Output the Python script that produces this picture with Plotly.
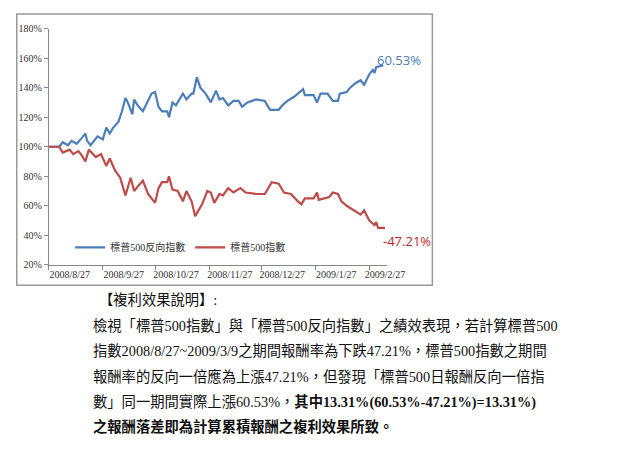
import plotly.graph_objects as go

blue_dates = ["2008-08-27","2008-09-02","2008-09-04","2008-09-07","2008-09-09","2008-09-12","2008-09-15","2008-09-17","2008-09-18","2008-09-20","2008-09-24","2008-09-27","2008-09-29","2008-10-01","2008-10-03","2008-10-06","2008-10-08","2008-10-10","2008-10-11","2008-10-14","2008-10-15","2008-10-17","2008-10-20","2008-10-23","2008-10-25","2008-10-27","2008-10-29","2008-10-31","2008-11-03","2008-11-04","2008-11-06","2008-11-08","2008-11-12","2008-11-14","2008-11-17","2008-11-18","2008-11-20","2008-11-22","2008-11-25","2008-11-28","2008-12-01","2008-12-03","2008-12-05","2008-12-08","2008-12-11","2008-12-14","2008-12-16","2008-12-19","2008-12-24","2008-12-29","2009-01-01","2009-01-06","2009-01-08","2009-01-11","2009-01-15","2009-01-20","2009-01-21","2009-01-26","2009-01-28","2009-01-30","2009-02-03","2009-02-06","2009-02-09","2009-02-10","2009-02-14","2009-02-16","2009-02-19","2009-02-22","2009-02-24","2009-02-27","2009-03-01","2009-03-02","2009-03-03","2009-03-07"]
blue_vals = [100,100,103,101,104,102,106,109,104,101,107,105,113,109,113,117,124,133,131,122,132,128,124,131,136,137,127,124,124,120,130,128,136,132,136,136,147,140,136,130,138,132,133,128,131,131,127,130,132,131,125,125,128,131,134,139,135,135,130,136,136,131,131,136,137,140,143,145,142,149,152,150,154,155]

red_dates = ["2008-08-27","2008-09-02","2008-09-04","2008-09-08","2008-09-10","2008-09-13","2008-09-15","2008-09-17","2008-09-19","2008-09-23","2008-09-26","2008-09-29","2008-10-01","2008-10-04","2008-10-07","2008-10-10","2008-10-13","2008-10-15","2008-10-17","2008-10-20","2008-10-23","2008-10-27","2008-10-29","2008-10-31","2008-11-03","2008-11-04","2008-11-06","2008-11-09","2008-11-12","2008-11-14","2008-11-17","2008-11-19","2008-11-23","2008-11-26","2008-11-28","2008-11-30","2008-12-03","2008-12-05","2008-12-08","2008-12-11","2008-12-15","2008-12-18","2008-12-24","2008-12-29","2009-01-02","2009-01-06","2009-01-09","2009-01-13","2009-01-17","2009-01-19","2009-01-21","2009-01-26","2009-01-28","2009-01-29","2009-02-04","2009-02-06","2009-02-09","2009-02-11","2009-02-14","2009-02-19","2009-02-22","2009-02-24","2009-02-27","2009-03-02","2009-03-03","2009-03-04","2009-03-08"]
red_vals = [100,100,96,98,95,97,94,90,98,93,95,87,92,84,79,67,79,70,73,77,68,62,72,76,76,80,71,70,63,70,63,53,61,70,69,62,68,67,72,69,72,69,68,68,76,75,69,68,63,61,65,65,69,64,66,69,68,63,60,56,54,57,50,47,49,45,45]

tick_pos = ["2008-09-08","2008-10-09","2008-11-08","2008-12-09","2009-01-08","2009-02-08","2009-03-08"]
tick_text = ["2008/8/27","2008/9/27","2008/10/27","2008/11/27","2008/12/27","2009/1/27","2009/2/27"]
y_ticks = [20,40,60,80,100,120,140,160,180]

W, H = 624, 434
def px(x):
    return (x - 8) / W
def py(y):
    return 1 - (y - 8) / H

BLUE = "#4a7ebb"
RED = "#be4b48"
fig = go.Figure()
fig.add_trace(go.Scatter(x=blue_dates, y=blue_vals, mode="lines", name="標普500反向指數", line=dict(color=BLUE, width=2.2)))
fig.add_trace(go.Scatter(x=red_dates, y=red_vals, mode="lines", name="標普500指數", line=dict(color=RED, width=2.2)))

serif = "Liberation Serif, Noto Sans CJK TC"
fig.update_layout(
    width=W, height=H, margin=dict(l=0, r=0, t=0, b=0),
    paper_bgcolor="white", plot_bgcolor="white",
    xaxis=dict(domain=[px(50), px(398)], type="date", range=["2008-08-27", "2009-03-09"],
               tickvals=tick_pos, ticktext=tick_text, ticks="", showgrid=False,
               showline=True, linecolor="#888", linewidth=1,
               tickfont=dict(family=serif, size=10, color="#333"),
               minor=dict(ticks="outside", tick0="2008-08-27", dtick="M1", ticklen=4, tickcolor="#888")),
    yaxis=dict(domain=[py(266), py(23)], range=[20, 180], tickvals=y_ticks,
               ticktext=[f"{v}%" for v in y_ticks], showgrid=False, zeroline=False,
               showline=True, linecolor="#888", ticks="outside", ticklen=4, tickcolor="#888",
               tickfont=dict(family=serif, size=10, color="#333")),
    legend=dict(orientation="h", x=px(72), y=py(248), xanchor="left", yanchor="middle",
                font=dict(family=serif, size=10, color="#333"), bgcolor="rgba(0,0,0,0)"),
    showlegend=True,
)
fig.add_shape(type="rect", xref="paper", yref="paper", x0=px(17), x1=px(445), y0=py(287), y1=py(8),
              line=dict(color="#999", width=1.5))
fig.add_annotation(xref="paper", yref="paper", x=px(411), y=py(44), text="60.53%", showarrow=False,
                   font=dict(family="Open Sans", size=13, color=BLUE))
fig.add_annotation(xref="paper", yref="paper", x=px(419), y=py(241), text="-47.21%", showarrow=False,
                   font=dict(family="Open Sans", size=13, color="#c0272d"))

lines = [
    (100, 302, "【複利效果說明】:"),
    (93, 329, "檢視「標普500指數」與「標普500反向指數」之績效表現，若計算標普500"),
    (93, 355, "指數2008/8/27~2009/3/9之期間報酬率為下跌47.21%，標普500指數之期間"),
    (93, 381, "報酬率的反向一倍應為上漲47.21%，但發現「標普500日報酬反向一倍指"),
    (93, 407, "數」同一期間實際上漲60.53%，<b>其中13.31%(60.53%-47.21%)=13.31%)</b>"),
    (93, 432, "<b>之報酬落差即為計算累積報酬之複利效果所致。</b>"),
]
for x, y, t in lines:
    fig.add_annotation(xref="paper", yref="paper", x=px(x), y=py(y), text=t, showarrow=False,
                       xanchor="left", yanchor="middle", font=dict(family=serif, size=14.3, color="#111"))

fig.write_html("out.html")
